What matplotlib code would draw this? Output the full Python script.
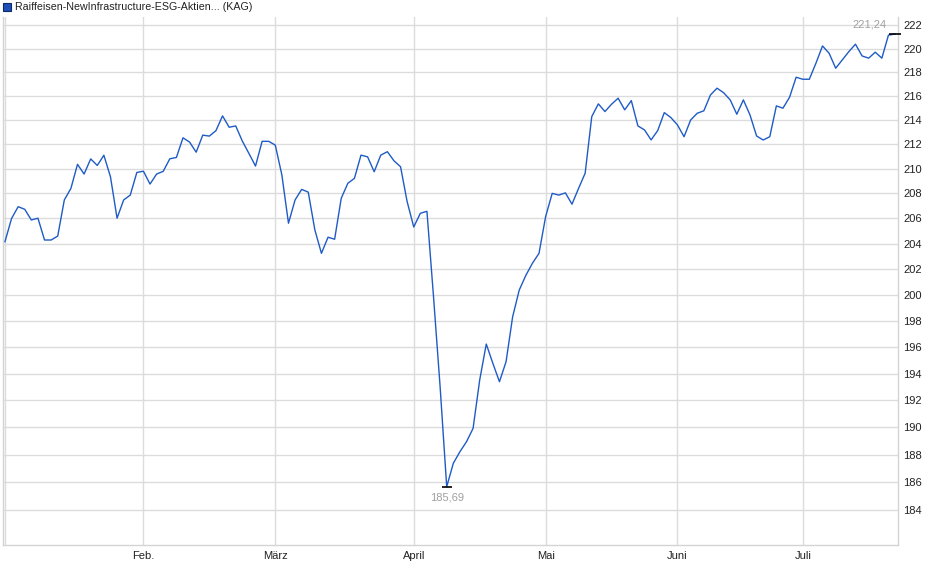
import numpy as np
import matplotlib
matplotlib.use('Agg')
import matplotlib.pyplot as plt
from matplotlib.ticker import NullLocator, FixedLocator, FixedFormatter

plt.rcParams['font.family'] = ['Liberation Sans', 'DejaVu Sans']

# fund prices (one value per trading day, Jan 2 .. Jul 21)
prices = [
    204.16, 206.00, 206.94, 206.73, 205.88, 206.02, 204.29, 204.29, 204.60, 207.48,
    208.41, 210.36, 209.57, 210.80, 210.27, 211.10, 209.35, 206.02, 207.48, 207.87,
    209.70, 209.80, 208.76, 209.57, 209.79, 210.81, 210.92, 212.53, 212.18, 211.35,
    212.75, 212.67, 213.12, 214.34, 213.40, 213.51, 212.26, 211.25, 210.22, 212.24,
    212.24, 211.93, 209.49, 205.62, 207.48, 208.33, 208.11, 205.09, 203.24, 204.51,
    204.35, 207.61, 208.82, 209.22, 211.11, 210.97, 209.76, 211.11, 211.39, 210.65,
    210.16, 207.34, 205.32, 206.41, 206.57, 199.85, 193.01, 185.69, 187.38, 188.22,
    188.95, 189.93, 193.51, 196.23, 194.77, 193.39, 194.89, 198.31, 200.37, 201.51,
    202.46, 203.24, 206.14, 208.01, 207.87, 208.05, 207.14, 208.41, 209.64, 214.28,
    215.34, 214.70, 215.31, 215.81, 214.84, 215.61, 213.51, 213.18, 212.36, 213.12,
    214.61, 214.20, 213.59, 212.62, 214.00, 214.56, 214.76, 216.08, 216.65, 216.27,
    215.67, 214.48, 215.67, 214.42, 212.68, 212.35, 212.62, 215.17, 214.98, 215.89,
    217.57, 217.40, 217.40, 218.75, 220.22, 219.60, 218.33, 219.03, 219.74, 220.37,
    219.37, 219.18, 219.69, 219.18, 221.14, 221.24,
]
# first trading day of each month (index into prices)
month_pos = [0, 21, 41, 62, 82, 102, 121]
month_labels = ['', 'Feb.', 'März', 'April', 'Mai', 'Juni', 'Juli']
y_ticks = list(range(184, 223, 2))
fund_name = 'Raiffeisen-NewInfrastructure-ESG-Aktien... (KAG)'

x = np.arange(len(prices))
y = np.array(prices)

fig = plt.figure(figsize=(9.4, 5.79), dpi=100)
ax = fig.add_axes([3 / 940, 34 / 579, 895 / 940, 528 / 579])

ax.plot(x, y, color='#1f5bc6', lw=1.0, zorder=3)

ax.set_yscale('log')
ax.set_ylim(181.55, 222.7)
ax.set_xlim(-0.3, 135.45)

ax.yaxis.set_major_locator(FixedLocator(y_ticks))
ax.yaxis.set_major_formatter(FixedFormatter([str(v) for v in y_ticks]))
ax.yaxis.set_minor_locator(NullLocator())
ax.yaxis.tick_right()
ax.tick_params(axis='y', length=0, pad=4, labelsize=8, labelcolor='#222222')

ax.set_xticks(month_pos)
ax.set_xticklabels(month_labels)
ax.tick_params(axis='x', length=0, pad=4, labelsize=8, labelcolor='#222222')

ax.grid(True, color='#dcdcdc', lw=1.0)
ax.set_axisbelow(True)
for s in ['left', 'right', 'bottom']:
    ax.spines[s].set_color('#d4d4d4')
    ax.spines[s].set_linewidth(1.0)
ax.spines['top'].set_visible(False)

# min / max markers
imin = int(np.argmin(y))
imax = int(np.argmax(y))
ax.plot([imin], [y[imin]], marker='_', color='black', ms=7, mew=1.2, zorder=4)
ax.plot([imax], [y[imax]], marker='_', color='black', ms=8, mew=1.2, zorder=4, clip_on=False)
ax.annotate(f'{y[imin]:.2f}'.replace('.', ','), (imin, y[imin]), xytext=(0, -4),
            textcoords='offset points', ha='center', va='top', fontsize=8, color='#a0a0a0')
ax.annotate(f'{y[imax]:.2f}'.replace('.', ','), (imax, y[imax]), xytext=(-6, 3),
            textcoords='offset points', ha='right', va='bottom', fontsize=8, color='#a0a0a0')

# legend square + title
fig.patches.append(plt.Rectangle((3 / 940, 1 - 11 / 579), 8 / 940, 8 / 579,
                                 transform=fig.transFigure, facecolor='#1c4fb8',
                                 edgecolor='#0d2a66', lw=0.8))
fig.text(15 / 940, 1 - 7 / 579, fund_name, ha='left', va='center', fontsize=7.7, color='#222222')

fig.savefig('out.png', dpi=100)
